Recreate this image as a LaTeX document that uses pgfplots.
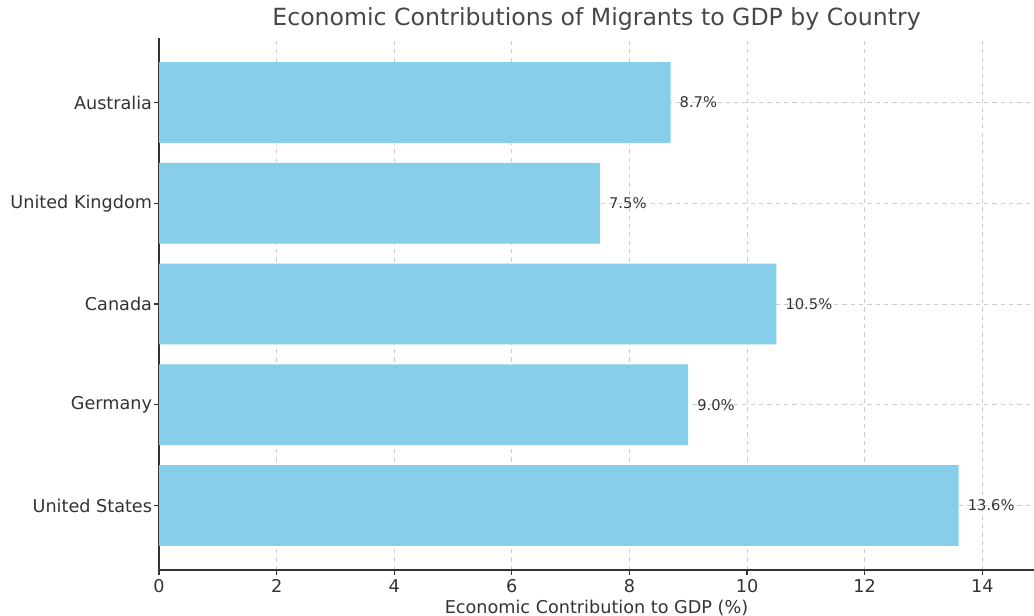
\documentclass[border=0pt]{standalone}
\usepackage{fontspec}
\setmainfont{DejaVu Sans}
\usepackage{pgfplots}
\pgfplotsset{compat=1.18}
\definecolor{barc}{HTML}{87CEEB}
\definecolor{txt}{HTML}{333333}
\begin{document}
\begin{tikzpicture}
\begin{axis}[name=ax, scale only axis, width=630pt, height=383pt,
  xbar, bar width=0.8, xmin=0, xmax=14.88, ymin=-0.64, ymax=4.64,
  ytick={0,1,2,3,4},
  yticklabels={United States, Germany, Canada, United Kingdom, Australia},
  xtick={0,2,...,14},
  axis x line*=bottom, axis y line*=left,
  axis line style={color=txt, line width=0.9pt},
  tick align=outside, major tick length=3.5pt,
  tick style={color=txt, line width=0.8pt},
  grid=major, grid style={dashed, color=black!20, line width=0.5pt},
  /pgf/number format/assume math mode=true,
  ticklabel style={font=\fontsize{12.7}{15}\selectfont, text=txt},
  yticklabel style={xshift=2pt},
  xlabel={Economic Contribution to GDP (\%)},
  xlabel style={font=\fontsize{12.7}{15}\selectfont, text=txt, yshift=2pt},
  title={Economic Contributions of Migrants to GDP by Country},
  title style={font=\fontsize{17}{20}\selectfont, text=txt!90, at={(0.5,1)}, anchor=south, yshift=-4pt},
  nodes near coords={\pgfmathprintnumber[fixed, fixed zerofill, precision=1]{\pgfplotspointmeta}\%},
  every node near coord/.append style={font=\fontsize{10.6}{12}\selectfont, text=txt, anchor=west, xshift=3pt},
  point meta=explicit,
]
\addplot[fill=barc, draw=none] coordinates {(13.6,0) [13.6] (9.0,1) [9.0] (10.5,2) [10.5] (7.5,3) [7.5] (8.7,4) [8.7]};
\end{axis}
\pgfresetboundingbox
\path[use as bounding box] ([xshift=-114.5pt,yshift=-33.1pt]ax.south west) rectangle ([yshift=27.4pt]ax.north east);
\end{tikzpicture}
\end{document}
